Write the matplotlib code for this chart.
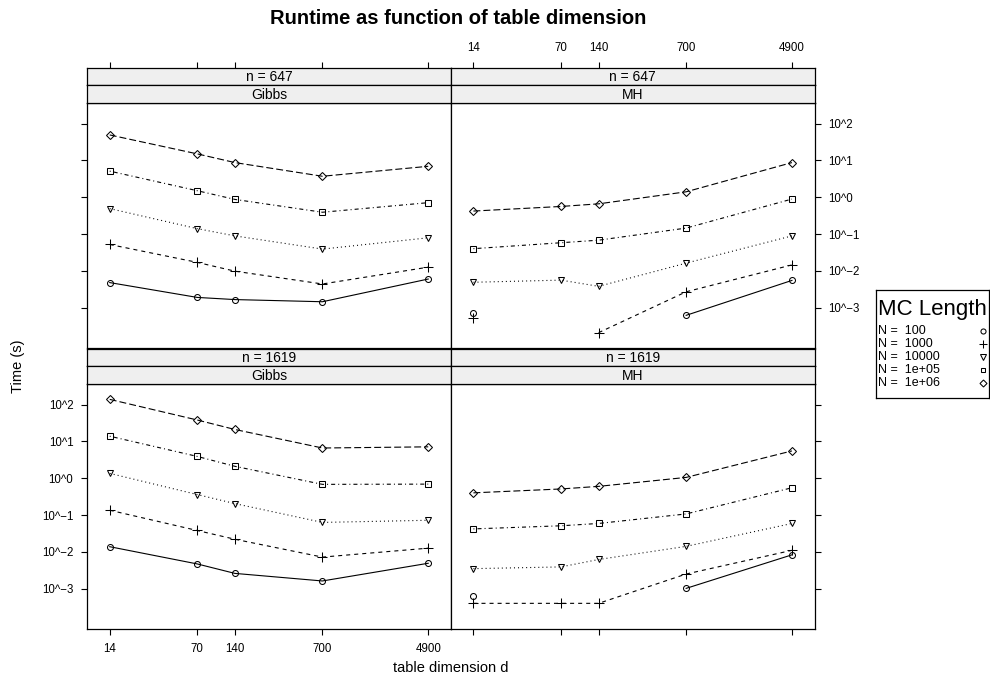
import numpy as np
import matplotlib
matplotlib.use("Agg")
import matplotlib.pyplot as plt

plt.rcParams['font.family'] = ['Liberation Sans', 'DejaVu Sans']
plt.rcParams['lines.scale_dashes'] = False

# DATA
dims = [14, 70, 140, 700, 4900]
dim_labels = ["14", "70", "140", "700", "4900"]
mc_labels = ["N =  100", "N =  1000", "N =  10000", "N =  1e+05", "N =  1e+06"]
y_ticks = [1e-3, 1e-2, 1e-1, 1e0, 1e1, 1e2]
y_labels = ["10^\u22123", "10^\u22122", "10^\u22121", "10^0", "10^1", "10^2"]

# runtime in seconds, rows = MC length (100 .. 1e6), cols = table dimension
gibbs_647 = [
    [0.0048, 0.0019, 0.00166, 0.00145, 0.0060],
    [0.052, 0.017, 0.0098, 0.0044, 0.0126],
    [0.49, 0.14, 0.089, 0.039, 0.079],
    [5.1, 1.5, 0.87, 0.39, 0.71],
    [49.0, 15.0, 8.7, 3.7, 6.9],
]
mh_647 = [
    [0.00072, np.nan, np.nan, 0.00062, 0.0055],
    [0.00051, np.nan, 0.00021, 0.0027, 0.0145],
    [0.0049, 0.0056, 0.0038, 0.0162, 0.089],
    [0.040, 0.058, 0.068, 0.145, 0.89],
    [0.42, 0.56, 0.66, 1.4, 8.7],
]
gibbs_1619 = [
    [0.0138, 0.0047, 0.0026, 0.00162, 0.0049],
    [0.135, 0.038, 0.022, 0.0072, 0.0126],
    [1.35, 0.36, 0.204, 0.063, 0.072],
    [13.8, 3.9, 2.1, 0.68, 0.69],
    [138.0, 38.0, 21.0, 6.6, 7.1],
]
mh_1619 = [
    [0.00062, np.nan, np.nan, 0.00102, 0.0083],
    [0.0004, 0.0004, 0.0004, 0.0025, 0.011],
    [0.0035, 0.0039, 0.0062, 0.0141, 0.059],
    [0.042, 0.051, 0.059, 0.107, 0.55],
    [0.40, 0.51, 0.60, 1.05, 5.5],
]

# lattice-like styles (pch 1, 3, 6, 0, 5 / lty 1..5)
markers = ['o', '+', 'v', 's', 'D']
msizes = [4.3, 6.5, 5.0, 4.0, 4.2]
dashes = [None, (2.9, 2.9), (0.72, 2.2), (0.72, 2.2, 2.9, 2.2), (5.0, 2.2)]

W, H = 990, 680
fig = plt.figure(figsize=(W / 100, H / 100), dpi=100)


def box(x0, y0, x1, y1):
    return [x0 / W, 1 - y1 / H, (x1 - x0) / W, (y1 - y0) / H]


XL = (10 ** 0.967, 10 ** 3.872)
YL = (10 ** -4.10, 10 ** 2.56)
L, M, R = 87.3, 451, 814.7
tick_kw = dict(length=4.5, width=0.8, labelsize=8.3, pad=5.5, direction='out')

panels = [
    # data, column name, row name, x0, x1, strip top, position
    (gibbs_647, "Gibbs", "n = 647", L, M, 67.7, "tl"),
    (mh_647, "MH", "n = 647", M, R, 67.7, "tr"),
    (gibbs_1619, "Gibbs", "n = 1619", L, M, 348.7, "bl"),
    (mh_1619, "MH", "n = 1619", M, R, 348.7, "br"),
]

for data, meth, nlab, x0, x1, st, pos in panels:
    s1 = st + 17.6
    s2 = s1 + 17.6
    pb = s2 + 245.3
    ax = fig.add_axes(box(x0, s2, x1, pb))
    for i in range(5):
        kw = dict(color='black', lw=0.8, marker=markers[i], ms=msizes[i],
                  mfc='none', mec='black', mew=0.75)
        line, = ax.plot(dims, data[i], **kw)
        if dashes[i] is not None:
            line.set_dashes(dashes[i])
    ax.set_xscale('log')
    ax.set_yscale('log')
    ax.set_xlim(*XL)
    ax.set_ylim(*YL)
    ax.minorticks_off()
    ax.set_xticks(dims)
    ax.set_xticklabels(dim_labels)
    ax.set_yticks(y_ticks)
    ax.set_yticklabels(y_labels)
    for sp in ax.spines.values():
        sp.set_linewidth(0.9)
    ax.tick_params(**tick_kw)
    left = pos[1] == 'l'
    bottom = pos[0] == 'b'
    ax.tick_params(axis='y', left=left, right=not left,
                   labelleft=(pos == 'bl'), labelright=(pos == 'tr'))
    ax.tick_params(axis='x', bottom=bottom, top=False,
                   labelbottom=(pos == 'bl'), labeltop=False)

    # strips
    for (ya, yb, txt, top_strip) in [(st, s1, nlab, True), (s1, s2, meth, False)]:
        sa = fig.add_axes(box(x0, ya, x1, yb), facecolor='#efefef')
        sa.set_xscale('log')
        sa.set_xlim(*XL)
        sa.minorticks_off()
        sa.set_yticks([])
        sa.set_xticks(dims)
        sa.set_xticklabels(dim_labels)
        for sp in sa.spines.values():
            sp.set_linewidth(0.9)
        sa.tick_params(**tick_kw)
        show_top = top_strip and pos[0] == 't'
        sa.tick_params(axis='x', bottom=False, labelbottom=False,
                       top=show_top, labeltop=(show_top and pos == 'tr'))
        sa.text(0.5, 0.45, txt, transform=sa.transAxes, ha='center',
                va='center', fontsize=10)

fig.text(458 / W, 1 - 19 / H, "Runtime as function of table dimension",
         ha='center', va='center', fontsize=14.5, fontweight='bold')
fig.text(18 / W, 1 - 366 / H, "Time (s)", rotation=90, ha='center',
         va='center', fontsize=10.5)
fig.text(451 / W, 1 - 668 / H, "table dimension d", ha='center',
         va='center', fontsize=10.5)

# legend
lg = fig.add_axes(box(876, 290, 989, 398))
lg.set_xlim(876, 989)
lg.set_ylim(398, 290)
lg.set_xticks([])
lg.set_yticks([])
for sp in lg.spines.values():
    sp.set_linewidth(0.9)
lg.text(932.5, 309, "MC Length", ha='center', va='center', fontsize=16)
rows = [331, 344, 357, 370, 383]
for i in range(5):
    lg.text(878, rows[i], mc_labels[i], ha='left', va='center', fontsize=9)
    lg.plot([982.5], [rows[i]], marker=markers[i], ms=msizes[i] * 0.85,
            mfc='none', mec='black', mew=0.75, ls='none')

fig.savefig("out.png", dpi=100)
